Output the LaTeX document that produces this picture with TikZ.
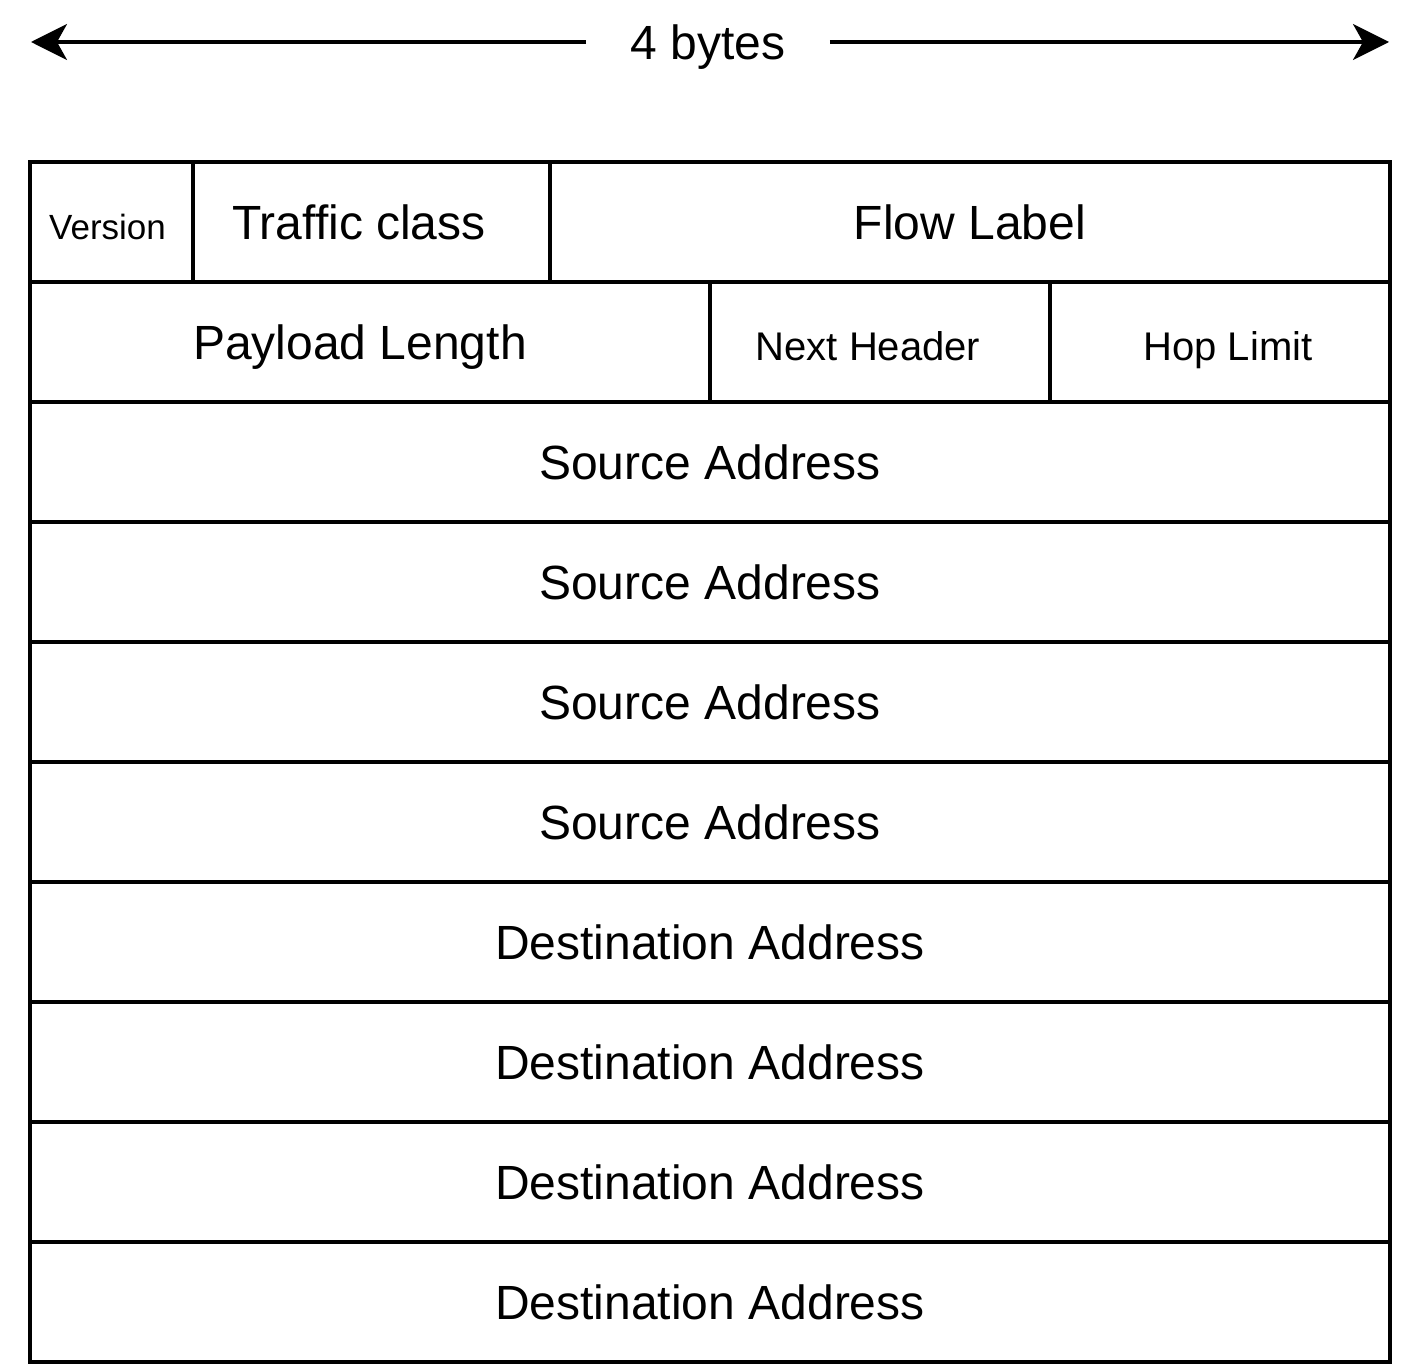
\documentclass[tikz,border=0pt]{standalone}
\usepackage{fontspec}
\setmainfont{Liberation Sans}
\usetikzlibrary{arrows.meta}

\begin{document}
\begin{tikzpicture}[x=0.5pt, y=-0.5pt,
  cell/.style={draw, line width=1.75pt, minimum height=60pt, inner sep=0pt, bigtxt},
  bigtxt/.style={font=\fontsize{24}{28}\selectfont, text height=17.2pt, text depth=0pt},
  smalltxt/.style={font=\fontsize{20}{24}\selectfont, text height=14.3pt, text depth=0pt},
  tinytxt/.style={font=\fontsize{17.5}{21}\selectfont, text height=12.5pt, text depth=0pt}]

\useasboundingbox (0,0) rectangle (1424,1364);

% Define row centres (one row = 120 units)
\def\rowa{222}
\def\rowb{342}
\def\rowc{462}
\def\rowd{582}
\def\rowe{702}
\def\rowf{822}
\def\rowg{942}
\def\rowh{1062}
\def\rowi{1182}
\def\rowj{1302}

% Width arrow on top
\node[bigtxt, inner xsep=22pt] (bytes) at (708, 42) {4 bytes};
\coordinate (leftend) at (31, 42);
\coordinate (rightend) at (1389, 42);
\draw[line width=1.75pt, -{Stealth[length=18pt, width=18pt, inset=5pt]}] (bytes) -- (leftend);
\draw[line width=1.75pt, -{Stealth[length=18pt, width=18pt, inset=5pt]}] (bytes) -- (rightend);

% First row
\node[cell, tinytxt, minimum width=81.5pt] (version) at (111.5, \rowa) {};
\node[cell, minimum width=178.5pt] (traffic) at (371.5, \rowa) {};
\node[cell, minimum width=420pt] (flow) at (970, \rowa) {Flow Label};
\node[tinytxt] (versiontxt) at (107.5, \rowa + 5) {Version};
\node[bigtxt] (traffictxt) at (359, \rowa) {Traffic class};

% Second row
\node[cell, minimum width=340pt] (payload) at (370, \rowb) {};
\node[cell, minimum width=170pt] (nexthdr) at (880, \rowb) {};
\node[cell, minimum width=170pt] (hoplimit) at (1220, \rowb) {};
\node[bigtxt] (payloadtxt) at (360, \rowb) {Payload Length};
\node[smalltxt] (nexthdrtxt) at (868, \rowb + 4) {Next Header};
\node[smalltxt] (hoplimittxt) at (1228, \rowb + 4) {Hop Limit};

% Source address rows
\node[cell, minimum width=680pt] (srca) at (710, \rowc) {Source Address};
\node[cell, minimum width=680pt] (srcb) at (710, \rowd) {Source Address};
\node[cell, minimum width=680pt] (srcc) at (710, \rowe) {Source Address};
\node[cell, minimum width=680pt] (srcd) at (710, \rowf) {Source Address};

% Destination address rows
\node[cell, minimum width=680pt] (dsta) at (710, \rowg) {Destination Address};
\node[cell, minimum width=680pt] (dstb) at (710, \rowh) {Destination Address};
\node[cell, minimum width=680pt] (dstc) at (710, \rowi) {Destination Address};
\node[cell, minimum width=680pt] (dstd) at (710, \rowj) {Destination Address};

\end{tikzpicture}
\end{document}
